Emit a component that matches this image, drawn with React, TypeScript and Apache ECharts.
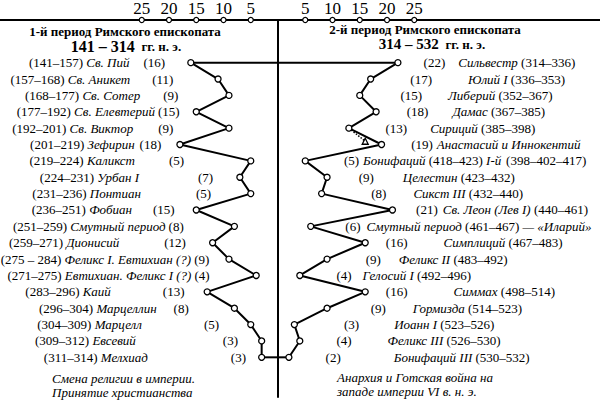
import React, { useEffect, useRef } from 'react';
import * as echarts from 'echarts';

// ---- data ----
const tickValues = [5, 10, 15, 20, 25];

const leftYears = ['(141–157)', '(157–168)', '(168–177)', '(177–192)', '(192–201)', '(201–219)', '(219–224)', '(224–231)', '(231–236)', '(236–251)', '(251–259)', '(259–271)', '(275 – 284)', '(271–275)', '(283–296)', '(296–304)', '(304–309)', '(309–312)', '(311–314)'];
const leftNames = ['Св. Пий', 'Св. Аникет', 'Св. Сотер', 'Св. Елевтерий', 'Св. Виктор', 'Зефирин', 'Каликст', 'Урбан I', 'Понтиан', 'Фобиан', 'Смутный период', 'Дионисий', 'Феликс I. Евтихиан (?)', 'Евтихиан. Феликс I (?)', 'Каий', 'Марцеллин', 'Марцелл', 'Евсевий', 'Мелхиад'];
const leftValues = [16, 11, 9, 15, 9, 18, 5, 7, 5, 15, 8, 12, 9, 4, 13, 8, 5, 3, 3];

const rightValues = [22, 17, 15, 18, 13, 19, 5, 9, 8, 21, 6, 16, 9, 4, 16, 9, 3, 4, 2];
const rightNames = ['Сильвестр', 'Юлий I', 'Либерий', 'Дамас', 'Сириций', 'Анастасий и Иннокентий', 'Бонифаций', 'Целестин', 'Сикст III', 'Св. Леон (Лев I)', 'Смутный период', 'Симплиций', 'Феликс II', 'Гелосий I', 'Симмах', 'Гормизда', 'Иоанн I', 'Феликс III', 'Бонифаций III'];
const rightYears = ['(314–336)', '(336–353)', '(352–367)', '(367–385)', '(385–398)', '(398–402–417)', '(418–423)', '(423–432)', '(432–440)', '(440–461)', '(461–467)', '(467–483)', '(483–492)', '(492–496)', '(498–514)', '(514–523)', '(523–526)', '(526–530)', '(530–532)'];
const rightSuffix = ['', '', '', '', '', '', ' I-й', '', '', '', ' — «Иларий»', '', '', '', '', '', '', '', ''];
// row whose years are written on a second line
const wrappedRow = 5;

// dotted branch near Siricius / Anastasius (value, row)
const innocentBranch = [16, 4.8];

// ---- layout (label spacing, px) ----
const leftLabelGap = [22, 41, 47, 13, 52, 15, 63, 23, 36, 18, 47, 23, 16, 43, 19, 42, 28, 20, 12];
const leftNameGap = [14, 22, 23, 3, 25, 5, 34, 59, 55, 21, 3, 45, 3, 3, 52, 17, 62, 87, 83];
const rightLabelGap = [22, 36, 37, 27, 33, 26, 35, 28, 46, 20, 31, 17, 35, 33, 17, 40, 46, 33, 33];
const rightNameGap = [13, 36, 26, 24, 23, 4, 4, 29, 27, 5, 6, 36, 18, 11, 46, 27, 35, 36, 53];
const wrappedYearsGap = 124;
const wrappedYearsDrop = 15.5;

const FONT = '"Liberation Serif", "DejaVu Serif", serif';
const INK = '#000';

export default function App() {
  const ref = useRef<HTMLDivElement>(null);
  useEffect(() => {
    document.body.style.margin = '0';
    const chart = echarts.init(ref.current!, undefined, { renderer: 'svg' });

    const yMin = -2.606;
    const yMax = 20.424;

    const baseRich: any = {
      y: { fontFamily: FONT, fontSize: 13, color: INK, lineHeight: 12 },
      n: { fontFamily: FONT, fontSize: 13, fontStyle: 'italic', color: INK, lineHeight: 12 },
      c: { fontFamily: FONT, fontSize: 13, color: INK, lineHeight: 12 },
    };
    const leftRich: any = { ...baseRich };
    leftNameGap.forEach((g, i) => { leftRich['g' + i] = { width: g, fontSize: 13, lineHeight: 12 }; });
    const rightRich: any = { ...baseRich };
    rightNameGap.forEach((g, i) => { rightRich['h' + i] = { width: g, fontSize: 13, lineHeight: 12 }; });

    const leftData = leftValues.map((v, i) => ({ value: [-v, i], label: { distance: leftLabelGap[i] } }));
    const rightData = rightValues.map((v, i) => ({ value: [v, i], label: { distance: rightLabelGap[i] } }));

    const ticks = [
      ...tickValues.map((v) => [-v, yMin]),
      ...tickValues.map((v) => [v, yMin]),
    ];

    const last = leftValues.length - 1;

    const markerStyle = { color: '#fff', borderColor: INK, borderWidth: 1.3, opacity: 1 };

    chart.setOption({
      animation: false,
      backgroundColor: '#fff',
      grid: { left: 0, right: 0, top: 17, bottom: 7, containLabel: false },
      xAxis: {
        type: 'value',
        position: 'top',
        min: -51.01,
        max: 59.08,
        axisLine: { show: true, onZero: false, lineStyle: { color: INK, width: 2 } },
        axisTick: { show: false },
        splitLine: { show: false },
        axisLabel: {
          customValues: [...tickValues.map((v) => -v), ...tickValues],
          formatter: (v: number) => String(Math.abs(v)),
          fontFamily: FONT,
          fontSize: 17,
          color: INK,
          margin: 3,
        },
      },
      yAxis: {
        type: 'value',
        inverse: true,
        min: yMin,
        max: yMax,
        axisLine: { show: true, onZero: true, lineStyle: { color: INK, width: 2 } },
        axisTick: { show: false },
        axisLabel: { show: false },
        splitLine: { show: false },
      },
      series: [
        {
          type: 'line',
          data: [[-leftValues[0], 0], [rightValues[0], 0]],
          symbol: 'none',
          lineStyle: { color: INK, width: 2 },
          silent: true,
          z: 2,
        },
        {
          type: 'line',
          data: [[-leftValues[last], last], [rightValues[last], last]],
          symbol: 'none',
          lineStyle: { color: INK, width: 2 },
          silent: true,
          z: 2,
        },
        {
          type: 'line',
          data: [
            { value: [rightValues[4], 4], symbol: 'none' },
            { value: innocentBranch, symbol: 'triangle', symbolSize: 6 },
          ],
          lineStyle: { color: INK, width: 1.5, type: 'dotted' },
          itemStyle: markerStyle,
          silent: true,
          z: 2,
        },
        {
          type: 'line',
          data: leftData,
          symbol: 'circle',
          symbolSize: 6,
          showAllSymbol: true,
          lineStyle: { color: INK, width: 2 },
          itemStyle: markerStyle,
          silent: true,
          emphasis: { disabled: true },
          z: 3,
          label: {
            show: true,
            position: 'left',
            fontFamily: FONT,
            fontSize: 13,
            color: INK,
            rich: leftRich,
            formatter: (p: any) => {
              const i = p.dataIndex;
              return `{y|${leftYears[i]}} {n|${leftNames[i]}}{g${i}| }{c|(${leftValues[i]})}`;
            },
          },
        },
        {
          type: 'line',
          data: rightData,
          symbol: 'circle',
          symbolSize: 6,
          showAllSymbol: true,
          lineStyle: { color: INK, width: 2 },
          itemStyle: markerStyle,
          silent: true,
          emphasis: { disabled: true },
          z: 3,
          label: {
            show: true,
            position: 'right',
            fontFamily: FONT,
            fontSize: 13,
            color: INK,
            rich: rightRich,
            formatter: (p: any) => {
              const i = p.dataIndex;
              if (i === wrappedRow) {
                return `{c|(${rightValues[i]})}{h${i}| }{n|${rightNames[i]}}`;
              }
              const suf = rightSuffix[i] ? `{n|${rightSuffix[i]}}` : '';
              return `{c|(${rightValues[i]})}{h${i}| }{n|${rightNames[i]}} {y|${rightYears[i]}}${suf}`;
            },
          },
        },
        {
          // second line of the wrapped label (years), anchored on the same point
          type: 'scatter',
          data: [[rightValues[wrappedRow], wrappedRow]],
          symbol: 'circle',
          symbolSize: 1,
          itemStyle: { color: '#fff', opacity: 1 },
          silent: true,
          emphasis: { disabled: true },
          z: 1,
          label: {
            show: true,
            position: 'right',
            distance: wrappedYearsGap,
            offset: [0, wrappedYearsDrop],
            fontFamily: FONT,
            fontSize: 13,
            color: INK,
            formatter: () => rightYears[wrappedRow],
          },
        },
        {
          type: 'scatter',
          data: ticks,
          symbol: 'circle',
          symbolSize: 5,
          itemStyle: { color: '#fff', borderColor: INK, borderWidth: 1.2, opacity: 1 },
          clip: false,
          silent: true,
          emphasis: { disabled: true },
          z: 5,
        },
      ],
      graphic: [
        {
          type: 'text', x: 125, y: 31,
          style: { text: '1-й период Римского епископата', font: `bold 13px ${FONT}`, fill: INK, align: 'center', verticalAlign: 'middle' },
        },
        {
          type: 'text', x: 126, y: 46,
          style: {
            text: '{a|141 – 314}  {b|гг. н. э.}', align: 'center', verticalAlign: 'middle',
            rich: {
              a: { fontFamily: FONT, fontSize: 16, fontWeight: 'bold', fill: INK, color: INK },
              b: { fontFamily: FONT, fontSize: 13, fontWeight: 'bold', fill: INK, color: INK },
            },
          },
        },
        {
          type: 'text', x: 425, y: 29,
          style: { text: '2-й период Римского епископата', font: `bold 13px ${FONT}`, fill: INK, align: 'center', verticalAlign: 'middle' },
        },
        {
          type: 'text', x: 432, y: 44,
          style: {
            text: '{a|314 – 532}  {b|гг. н. э.}', align: 'center', verticalAlign: 'middle',
            rich: {
              a: { fontFamily: FONT, fontSize: 15, fontWeight: 'bold', fill: INK, color: INK },
              b: { fontFamily: FONT, fontSize: 13, fontWeight: 'bold', fill: INK, color: INK },
            },
          },
        },
        {
          type: 'text', x: 52, y: 378,
          style: { text: 'Смена религии в империи.', font: `italic 13px ${FONT}`, fill: INK, verticalAlign: 'middle' },
        },
        {
          type: 'text', x: 52, y: 392,
          style: { text: 'Принятие христианства', font: `italic 13px ${FONT}`, fill: INK, verticalAlign: 'middle' },
        },
        {
          type: 'text', x: 337, y: 377,
          style: { text: 'Анархия и Готская война на', font: `italic 13px ${FONT}`, fill: INK, verticalAlign: 'middle' },
        },
        {
          type: 'text', x: 337, y: 391,
          style: { text: 'западе империи VI в. н. э.', font: `italic 13px ${FONT}`, fill: INK, verticalAlign: 'middle' },
        },
      ],
    });
    return () => chart.dispose();
  }, []);
  return <div ref={ref} style={{ width: 600, height: 404 }} />;
}
